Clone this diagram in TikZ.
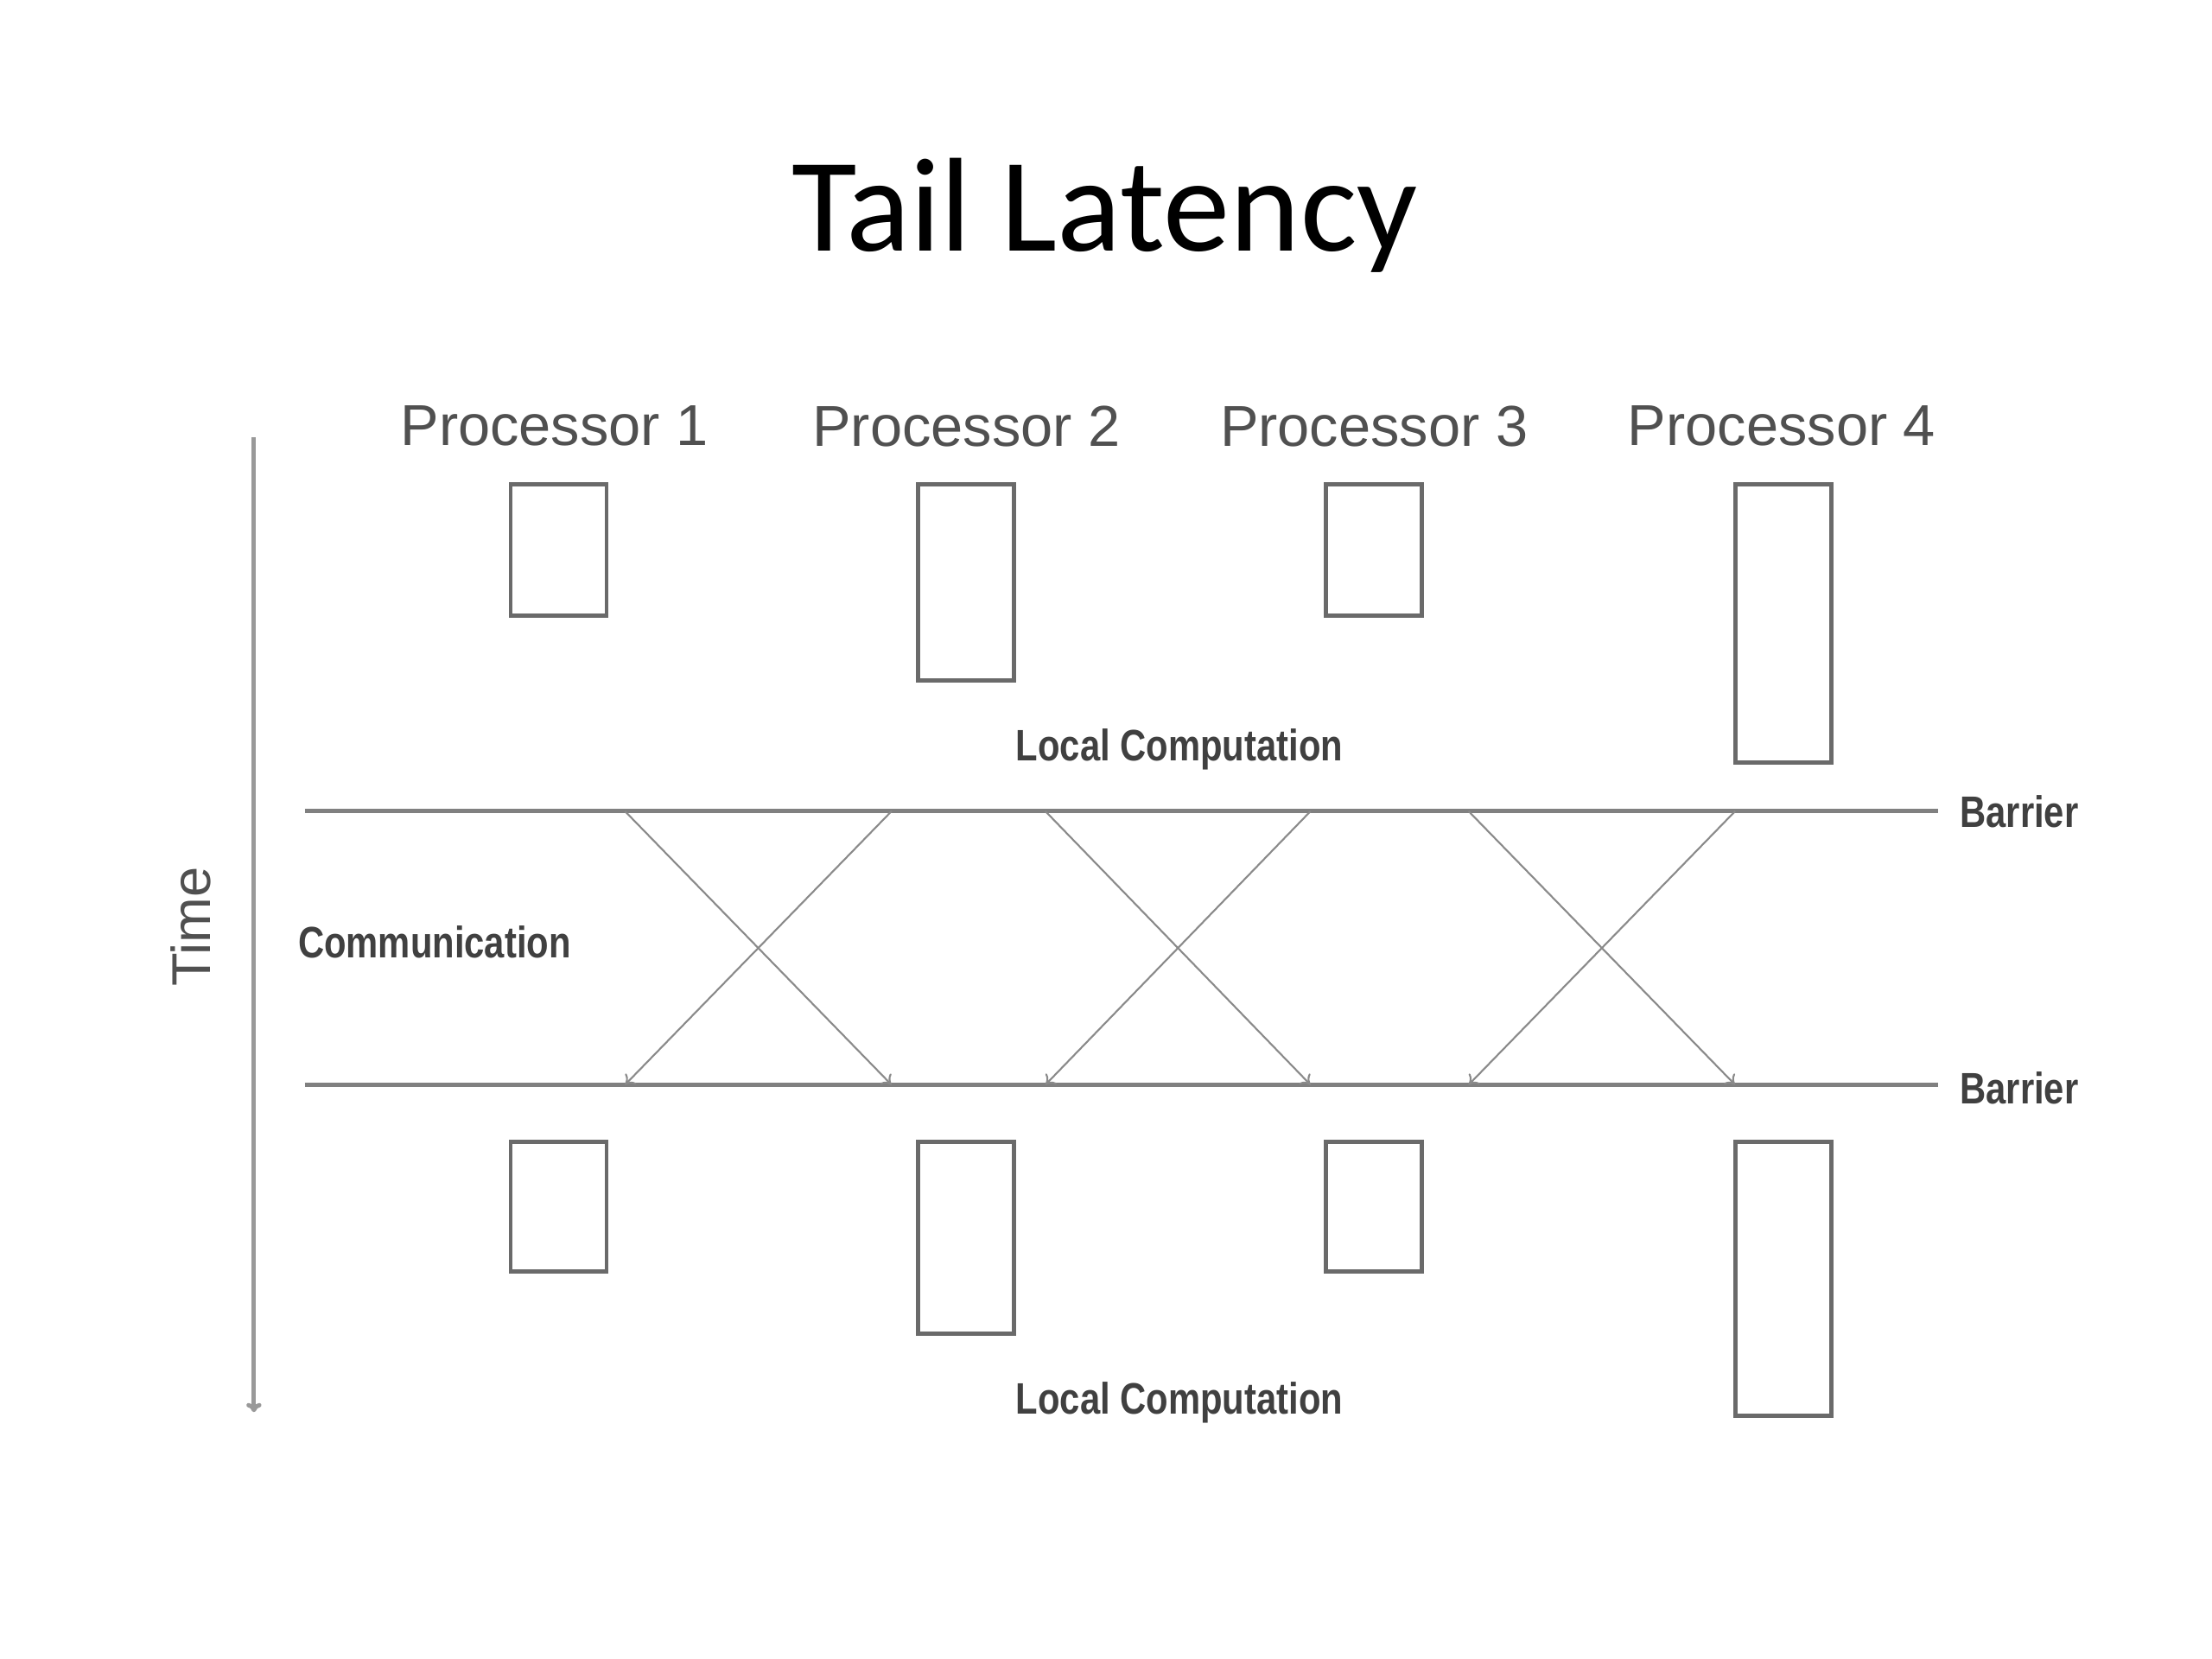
\documentclass[tikz,border=0pt]{standalone}
\usepackage{fontspec}
\setmainfont{Liberation Sans}
\newfontfamily\titlefont{Carlito}
\usetikzlibrary{arrows.meta}
\definecolor{linegray}{HTML}{808080}
\definecolor{boxgray}{HTML}{6A6A6A}
\definecolor{axisgray}{HTML}{999999}
\definecolor{textgray}{HTML}{505050}
\definecolor{labelgray}{HTML}{404040}
\definecolor{crossgray}{HTML}{8A8A8A}
\tikzset{
  procbox/.style={draw=boxgray, line width=1.4pt, minimum width=1.11cm, inner sep=0pt, anchor=north},
  proclabel/.style={text=textgray, font=\fontsize{19}{22}\selectfont, inner sep=0pt},
  smalllabel/.style={text=labelgray, font=\fontsize{14.5}{17}\selectfont\bfseries, xscale=0.82, inner sep=0pt},
  barrierline/.style={draw=linegray, line width=1.4pt},
  msg/.style={draw=crossgray, line width=0.6pt, -{To[length=3pt,width=5pt]}},
}
\begin{document}
\begin{tikzpicture}[x=0.016327cm, y=-0.016327cm]
\useasboundingbox (0,0) rectangle (1568,1176);
% title
\node[font=\titlefont\fontsize{44}{50}\selectfont, anchor=base] (title) at (783,178) {Tail Latency};
% time axis
\coordinate (ts) at (180,310);
\coordinate (te) at (180,1001);
\draw[draw=axisgray, line width=1.4pt, -{To[length=3pt,width=5pt]}] (ts) -- (te);
\node[rotate=90, text=textgray, font=\fontsize{18}{21}\selectfont, inner sep=0pt] (time) at (135,657) {Time};
% processor labels
\node[proclabel] (p1) at (393,302) {Processor 1};
\node[proclabel] (p2) at (685,302) {Processor 2};
\node[proclabel] (p3) at (974,302) {Processor 3};
\node[proclabel] (p4) at (1263,302) {Processor 4};
% top computation boxes
\node[procbox, minimum height=1.518cm] (a1) at (396,342) {};
\node[procbox, minimum height=2.269cm] (a2) at (684.5,342) {};
\node[procbox, minimum height=1.518cm] (a3) at (974,342) {};
\node[procbox, minimum height=3.216cm] (a4) at (1264,342) {};
\node[smalllabel] (lc1) at (836,531) {Local Computation};
% barriers
\coordinate (b1l) at (216,575);
\coordinate (b1r) at (1374,575);
\coordinate (b2l) at (216,769);
\coordinate (b2r) at (1374,769);
\draw[barrierline] (b1l) -- (b1r);
\draw[barrierline] (b2l) -- (b2r);
\node[smalllabel, anchor=west] (bar1) at (1389,575) {Barrier};
\node[smalllabel, anchor=west] (bar2) at (1389,771) {Barrier};
\node[smalllabel, anchor=west] (comm) at (211,668) {Communication};
% communication endpoints
\foreach \i/\x in {1/443,2/632,3/741,4/929,5/1041,6/1230}{
  \coordinate (t\i) at (\x,575);
  \coordinate (u\i) at (\x,769);
}
\draw[msg] (t1) -- (u2);
\draw[msg] (t2) -- (u1);
\draw[msg] (t3) -- (u4);
\draw[msg] (t4) -- (u3);
\draw[msg] (t5) -- (u6);
\draw[msg] (t6) -- (u5);
% bottom computation boxes
\node[procbox, minimum height=1.502cm] (c1) at (396,808) {};
\node[procbox, minimum height=2.220cm] (c2) at (684.5,808) {};
\node[procbox, minimum height=1.502cm] (c3) at (974,808) {};
\node[procbox, minimum height=3.167cm] (c4) at (1264,808) {};
\node[smalllabel] (lc2) at (836,994) {Local Computation};
\end{tikzpicture}
\end{document}
